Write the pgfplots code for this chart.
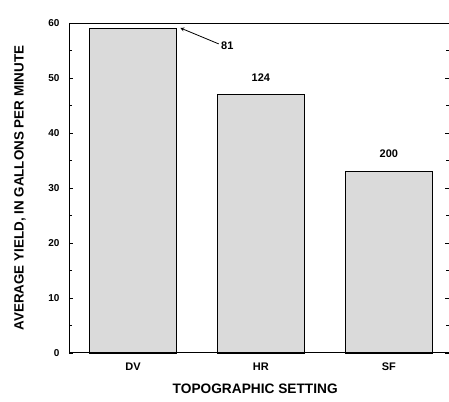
\documentclass[border=0pt]{standalone}
\usepackage{pgfplots}
\pgfplotsset{compat=1.18}
\usepackage{fontspec}
\setmainfont{Liberation Sans}
\usetikzlibrary{calc}
\definecolor{barfill}{HTML}{DADADA}
\begin{document}
\begin{tikzpicture}
\begin{axis}[
  scale only axis,
  width=380pt, height=330pt,
  xmin=-0.5, xmax=2.47,
  ymin=0, ymax=60,
  xtick={0,1,2},
  xticklabels={DV,HR,SF},
  major x tick style={draw=none},
  ytick={0,10,20,30,40,50,60},
  minor ytick={5,15,25,35,45,55},
  tick align=inside,
  ytick pos=both,
  yticklabel pos=left,
  major tick length=4pt,
  minor tick length=3pt,
  axis line style={draw=none},
  tick style={line width=0.7pt,black},
  yticklabel style={font=\fontsize{10}{11}\selectfont\bfseries, xshift=-6pt},
  xticklabel style={font=\fontsize{11}{12}\selectfont\bfseries, yshift=-2pt},
  /pgf/number format/assume math mode=true,
  xlabel={TOPOGRAPHIC SETTING},
  ylabel={AVERAGE YIELD, IN GALLONS PER MINUTE},
  xlabel style={font=\fontsize{13.7}{14}\selectfont\bfseries, at={(axis description cs:0.49,-0.109)}, anchor=center},
  ylabel style={font=\fontsize{13.4}{14}\selectfont\bfseries, at={(axis description cs:-0.129,0.5)}, anchor=center},
  ybar, bar width=0.68,
  clip=false,
]
\addplot[fill=barfill, draw=black, line width=0.9pt] coordinates {(0,59) (1,47) (2,33)};
\draw[line width=1pt] (rel axis cs:0,1) -- (rel axis cs:0,0) -- (rel axis cs:1,0);
\draw[line width=0.9pt] (rel axis cs:0,1) -- (rel axis cs:1,1);
\node[font=\fontsize{11}{12}\selectfont\bfseries] at (axis cs:1,50) {124};
\node[font=\fontsize{11}{12}\selectfont\bfseries] at (axis cs:2,36.3) {200};
\node[font=\fontsize{11}{12}\selectfont\bfseries, anchor=west, inner sep=1pt] at (axis cs:0.68,55.8) {81};
\draw[-stealth, line width=0.8pt] (axis cs:0.67,56.2) -- (axis cs:0.37,59.1);
\end{axis}
\pgfresetboundingbox
\path ($(current axis.south west)+(-69pt,-49pt)$) rectangle ($(current axis.north east)+(0pt,23pt)$);
\end{tikzpicture}
\end{document}
